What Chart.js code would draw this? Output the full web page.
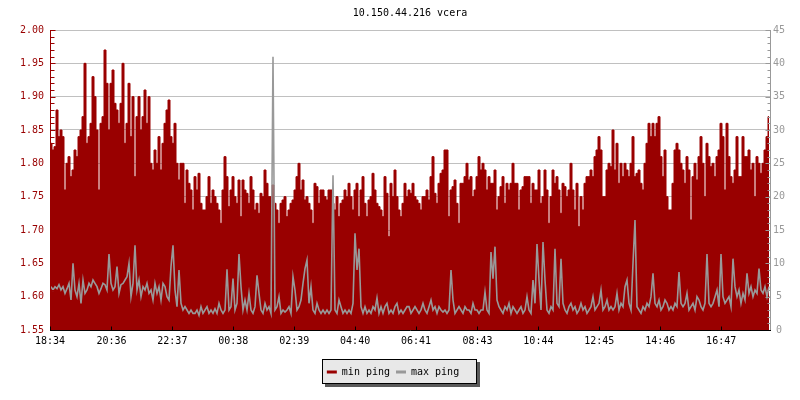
<!DOCTYPE html>
<html><head><meta charset="utf-8">
<script src="https://cdn.jsdelivr.net/npm/chart.js@4.4.1/dist/chart.umd.min.js"></script>
<style>html,body{margin:0;padding:0;background:#fff;}#wrap{width:800px;height:400px;position:relative;}</style>
</head><body><div id="wrap"><canvas id="c" width="800" height="400"></canvas></div>
<script>
const titleText = '10.150.44.216 vcera';
const tickLabels = ['18:34','20:36','22:37','00:38','02:39','04:40','06:41','08:43','10:44','12:45','14:46','16:47'];
const tickMinutes = [0,122,243,364,485,606,727,849,970,1091,1212,1333];
const spanMinutes = 1430;
const seriesNames = ['min ping','max ping'];

const minPing = [
 1.83,1.82,1.825,1.88,1.84,1.85,1.84,1.76,1.80,1.81,1.78,1.79,1.82,1.81,1.84,1.85,1.87,1.95,1.83,1.84,
 1.86,1.93,1.90,1.85,1.76,1.86,1.87,1.97,1.92,1.85,1.92,1.94,1.89,1.88,1.86,1.89,1.95,1.83,1.86,1.92,
 1.84,1.90,1.78,1.87,1.90,1.85,1.87,1.91,1.86,1.90,1.80,1.79,1.82,1.80,1.84,1.79,1.83,1.86,1.88,1.895,
 1.84,1.83,1.86,1.80,1.775,1.80,1.80,1.74,1.79,1.77,1.76,1.73,
 1.78,1.76,1.785,1.74,1.73,1.73,1.75,1.78,1.74,1.76,1.75,1.74,1.73,1.71,1.76,1.81,1.78,1.735,1.76,1.78,
 1.75,1.74,1.775,1.72,1.775,1.76,1.755,1.74,1.78,1.76,1.73,1.74,1.725,1.755,1.75,1.79,1.77,1.75,1.75,1.7675,
 1.74,1.73,1.71,1.74,1.745,1.75,1.72,1.73,1.74,1.745,1.76,1.78,1.80,1.76,1.775,1.745,1.75,1.74,1.73,1.71,
 1.77,1.765,1.74,1.76,1.76,1.75,1.745,1.76,1.76,1.74,1.73,1.75,
 1.72,1.74,1.745,1.76,1.75,1.77,1.75,1.73,1.76,1.77,1.72,1.76,1.78,1.74,1.72,1.745,1.75,1.785,1.76,1.74,
 1.735,1.73,1.72,1.78,1.755,1.69,1.77,1.75,1.79,1.75,1.73,1.72,1.74,1.77,1.75,1.76,1.755,1.77,1.75,1.745,
 1.74,1.73,1.75,1.75,1.76,1.745,1.78,1.81,1.755,1.74,1.77,1.785,1.79,1.82,1.82,1.72,1.76,1.765,1.775,1.74,
 1.71,1.77,1.77,1.78,1.80,1.775,1.78,1.75,1.76,1.78,1.81,1.79,
 1.80,1.79,1.76,1.78,1.77,1.77,1.79,1.73,1.75,1.765,1.78,1.74,1.77,1.76,1.77,1.80,1.77,1.77,1.73,1.76,
 1.765,1.78,1.78,1.78,1.74,1.77,1.76,1.76,1.79,1.74,1.75,1.79,1.76,1.71,1.75,1.79,1.77,1.78,1.76,1.725,
 1.77,1.765,1.75,1.76,1.80,1.76,1.73,1.77,1.705,1.75,1.73,1.77,1.78,1.78,1.79,1.78,1.81,1.82,1.84,1.82,
 1.75,1.75,1.79,1.80,1.795,1.85,1.79,1.83,1.77,1.80,1.78,1.80,
 1.79,1.78,1.80,1.84,1.78,1.785,1.79,1.77,1.76,1.80,1.83,1.86,1.84,1.86,1.84,1.86,1.87,1.81,1.78,1.82,
 1.75,1.73,1.73,1.77,1.82,1.83,1.82,1.80,1.79,1.77,1.81,1.79,1.715,1.78,1.80,1.775,1.81,1.84,1.80,1.75,
 1.83,1.81,1.795,1.80,1.78,1.81,1.82,1.86,1.84,1.76,1.86,1.81,1.78,1.77,1.79,1.84,1.78,1.78,1.84,1.81,
 1.81,1.82,1.79,1.80,1.75,1.81,1.80,1.785,1.80,1.82,1.84,1.87
];

const maxPing = [
 6.5,6,6.5,6.2,6.8,6,6.5,5.5,6.2,7,4.5,10,6,5,7,4,7.5,5.5,6,7,
 6.5,7.5,7,6.5,5.5,6.2,7,6.8,6,11.4,7,6,6.5,9.5,5.5,6.8,7,7.5,8,10,
 5,7,12.7,6,7.5,5,6.5,6,7,5.5,6,4.5,7,5.5,6.5,4.5,7,6.5,5,4.5,
 9.5,12.7,6,3.5,9,4,3,3.5,3,2.5,3,2.5,
 2.5,3,2.2,3.5,2.5,3,3.5,2.5,3,2.5,3.2,2.5,4,3,2.5,3,9.1,3,3.5,7.7,
 3,4,11.4,6.5,3,4.5,3,5.5,3,2.5,3.5,8.2,5.5,3,2.5,4,3,3.5,2.5,41,
 3,3.5,5,2.5,3,2.7,3,3.5,2.5,8,6,3,3.5,4.5,7,9.2,10.5,4,6.5,3,
 2.5,4,3,2.5,3,2.5,3,2.5,3,23.2,3,2.5,
 4.5,3.5,2.5,3,2.5,3,2.5,4,14.5,9,12.2,3.5,2.5,3.5,2.5,3,2.5,3.5,3,4.8,
 2.5,3.5,2.5,3.5,4,2.5,3,2.5,3.5,4,2.5,3,2.5,3,3.5,3.5,2.5,3,3.5,3,
 2.5,3,4,3,2.5,3.5,4.5,3,3.5,2.5,3.5,3,2.7,3,2.5,3,9,4.5,2.5,3,
 3.5,3,2.5,3.5,3,3,2.5,4,3,3,2.5,3,
 3,5.7,3,2.5,11.7,7.7,12.5,4.5,3.5,3,2.5,3.5,3,4,2.5,3.5,3,2.5,3,3.5,
 2.5,3,5,3,2.5,7.5,4,12.9,7.5,3,13.2,7.5,3,2.5,3.5,3,12.2,4,3.5,10.7,
 4,3,2.5,3.5,4,3,3.5,2.5,3,4,3,3.5,2.5,3,3.5,5,3,3.5,4,6,
 3,3.5,4.5,3,3.5,3,3.5,5.5,3,4,3.5,6.5,
 7.5,4,3,10,16.5,3.5,3,2.5,3.5,3,4,3.5,5,8.5,4,3.5,4.5,3,3.5,4.5,
 4,3,3.5,3,4,3.5,8.7,4,3.5,4,5.5,3,3.5,4,3,5,4.5,3.5,3,4,
 11.4,4,3.5,4,5,6,3.5,11.4,5,4,4.5,5,3.5,10.7,6.5,5,6,4,5.5,4.5,
 8.5,5.5,6.5,5,6,5.5,9.2,6,5.5,6.5,5,6.5
];

const RED = '#990000', GRAY = '#999999';
const FONT = { family: '"DejaVu Sans Mono", monospace', size: 10, weight: 'normal' };
const PAD_BOTTOM = 13;

const step = spanMinutes / minPing.length;
const toPoints = arr => arr.map((v, i) => ({ x: (i + 0.5) * step, y: v }));

const axesPlugin = {
  id: 'axesInward',
  afterLayout(chart) {
    if (chart.titleBlock) { chart.titleBlock.left += 20; }
    if (chart.legend) { chart.legend.left -= 7; chart.legend.right -= 7; }
  },
  beforeDraw(chart) {
    const lg = chart.legend;
    if (!lg || !lg.legendHitBoxes || !lg.legendHitBoxes.length) return;
    const hb = lg.legendHitBoxes;
    const first = hb[0], last = hb[hb.length - 1];
    const cy = first.top + first.height / 2;
    const l = Math.round(first.left - 5), r = Math.round(last.left + last.width + 17);
    const t = Math.round(cy - 13), b = Math.round(cy + 11);
    const ctx = chart.ctx;
    ctx.save();
    ctx.fillStyle = '#5a5a5a';
    ctx.fillRect(l + 3, t + 3, r - l + 1, b - t + 1);
    ctx.fillStyle = '#e8e8e8';
    ctx.fillRect(l, t, r - l, b - t);
    ctx.strokeStyle = '#000';
    ctx.lineWidth = 1;
    ctx.strokeRect(l + 0.5, t + 0.5, r - l, b - t);
    ctx.restore();
  },
  afterDatasetsDraw(chart) {
    const { ctx, chartArea: a, scales } = chart;
    ctx.save();
    ctx.lineWidth = 1;
    const L = Math.round(a.left) + 0.5, R = Math.round(a.right) + 0.5, B = Math.round(a.bottom) + 0.5;
    ctx.strokeStyle = RED;
    ctx.beginPath();
    ctx.moveTo(L, a.top); ctx.lineTo(L, a.bottom + 1);
    for (let v = 155; v <= 200; v++) {
      const y = Math.round(scales.y.getPixelForValue(v / 100)) + 0.5;
      const len = v % 5 === 0 ? 5 : 4;
      ctx.moveTo(L, y); ctx.lineTo(L + len, y);
    }
    ctx.stroke();
    ctx.strokeStyle = GRAY;
    ctx.beginPath();
    ctx.moveTo(R, a.top); ctx.lineTo(R, a.bottom + 1);
    for (let v = 0; v <= 45; v++) {
      const y = Math.round(scales.y1.getPixelForValue(v)) + 0.5;
      const len = v % 5 === 0 ? 5 : 3;
      ctx.moveTo(R, y); ctx.lineTo(R - len, y);
    }
    ctx.stroke();
    ctx.strokeStyle = '#000';
    ctx.beginPath();
    ctx.moveTo(a.left, B); ctx.lineTo(a.right + 1, B);
    tickMinutes.forEach(m => {
      const x = Math.round(scales.x.getPixelForValue(m)) + 0.5;
      ctx.moveTo(x, B); ctx.lineTo(x, B - 4);
    });
    ctx.stroke();
    ctx.restore();
  }
};

new Chart(document.getElementById('c'), {
  type: 'line',
  data: {
    datasets: [
      { label: seriesNames[0], data: toPoints(minPing), yAxisID: 'y', stepped: 'middle',
        borderColor: RED, backgroundColor: RED, borderWidth: 1, fill: 'start', pointRadius: 0, order: 1 },
      { label: seriesNames[1], data: toPoints(maxPing), yAxisID: 'y1', stepped: false, tension: 0,
        borderColor: GRAY, backgroundColor: GRAY, borderWidth: 1.6, fill: false, pointRadius: 0, order: 0 }
    ]
  },
  options: {
    responsive: false,
    animation: false,
    events: [],
    layout: { padding: { top: 0, left: 0, right: 0, bottom: PAD_BOTTOM } },
    scales: {
      x: {
        type: 'linear', min: 0, max: spanMinutes,
        afterBuildTicks: s => { s.ticks = tickMinutes.map(v => ({ value: v })); },
        afterFit: s => { const lh = (s.chart.legend && s.chart.legend.height) || 26; s.height = 400 - PAD_BOTTOM - lh - 330; },
        ticks: { autoSkip: false, maxRotation: 0, minRotation: 0, color: '#000', font: FONT, padding: 5,
                 callback: (v, i) => tickLabels[i] },
        grid: { display: false, drawTicks: false },
        border: { display: false }
      },
      y: {
        position: 'left', min: 1.55, max: 2.0,
        afterFit: s => { s.width = 50; },
        ticks: { stepSize: 0.05, color: RED, font: FONT, padding: 6, callback: v => Number(v).toFixed(2) },
        grid: { color: '#c0c0c0', lineWidth: 1, drawTicks: false },
        border: { display: false }
      },
      y1: {
        position: 'right', min: 0, max: 45,
        afterFit: s => { s.width = 30; },
        ticks: { stepSize: 5, color: GRAY, font: FONT, padding: 3, crossAlign: 'center' },
        grid: { drawOnChartArea: false, drawTicks: false },
        border: { display: false }
      }
    },
    plugins: {
      title: { display: true, text: titleText, color: '#000', font: FONT, padding: { top: 7, bottom: 11 } },
      legend: {
        position: 'bottom',
        labels: {
          boxWidth: 10, boxHeight: 3, padding: 6, color: '#000', font: FONT,
          generateLabels: chart => chart.data.datasets.map((ds, i) => ({
            text: ds.label, fillStyle: ds.borderColor, strokeStyle: ds.borderColor, lineWidth: 0,
            hidden: !chart.isDatasetVisible(i), datasetIndex: i, fontColor: '#000'
          }))
        }
      },
      tooltip: { enabled: false }
    }
  },
  plugins: [axesPlugin]
});
</script>
</body></html>
